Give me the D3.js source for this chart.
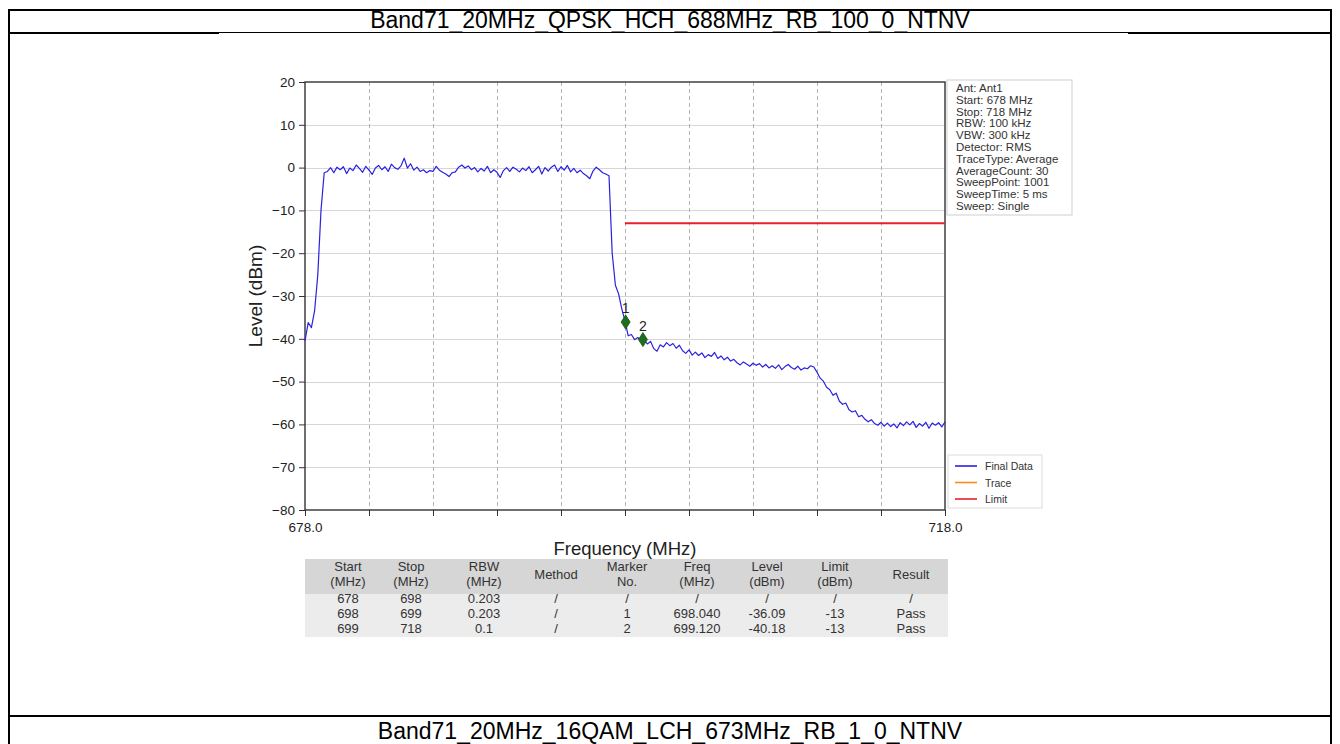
<!DOCTYPE html>
<html>
<head>
<meta charset="utf-8">
<script src="https://cdn.jsdelivr.net/npm/d3@7"></script>
<style>
  html, body { margin: 0; padding: 0; background: #fff; }
  svg { display: block; font-family: Arial, "Liberation Sans", sans-serif; }
</style>
</head>
<body>
<svg id="chart" width="1340" height="744"></svg>
<script>
// Sweep settings
const startMHz = 678;
const stopMHz = 718;

// Final Data trace, dBm, equally spaced between start and stop
const traceLevels = [
  -40.5, -36.2, -37.4, -33.5, -25.0, -10.0, -1.2,
  -0.9, 0.0, -1.2, 0.1, -0.5, 0.2, -1.4, -0.1, -0.7, 0.6,
  -0.2, -1.1, 0.3, -0.6, -1.6, -0.1, 0.5, -0.5, 0.2, -0.9,
  0.8, 0.0, -0.4, 0.4, 2.2, -0.1, 0.9, -0.6, 0.1, -0.9,
  -0.5, -1.2, -0.7, -0.9, 0.3, -0.6, -1.1, -1.5, -2.1, -1.2,
  -1.0, 0.1, 0.6, -0.1, 0.4, -0.5, 0.0, -1.0, -0.2, -0.8,
  0.3, -1.2, -0.5, -1.1, -2.3, -0.7, 0.0, -0.9, 0.1, -0.4,
  -1.0, -0.1, -0.7, 0.2, -1.2, -0.5, 0.3, -1.5, 0.0, -0.8,
  0.1, 0.6, -0.9, 0.2, -0.6, 0.5, -1.0, -0.2, -1.2, -0.6,
  -1.4, -1.9, -2.6, -0.8, 0.1, -0.5, -1.2, -1.5,
  -1.9, -20.0, -27.5, -29.5, -33.0, -35.8, -39.3, -39.0, -40.2, -39.7, -40.4, -40.3,
  -41.2, -40.6, -42.3, -42.9, -41.4, -41.9, -40.9, -41.6, -41.1, -42.2,
  -41.5, -42.8, -43.4, -42.6, -43.8, -43.1, -43.9, -43.3, -44.4, -43.7,
  -44.1, -43.2, -44.6, -44.0, -44.9, -44.3, -45.2, -44.8, -45.6, -46.1,
  -45.4, -45.9, -46.4, -45.7, -46.2, -45.8, -46.6, -46.0, -46.8, -46.3,
  -46.9, -46.1, -47.2, -46.5, -46.0, -46.7, -47.1, -46.4, -47.3, -46.8,
  -47.0, -46.3, -46.6, -47.8, -49.2, -49.9, -51.3, -51.9, -53.2, -52.7,
  -54.6, -55.3, -55.0, -56.6, -57.1, -56.8, -58.2, -57.9, -58.8, -59.4,
  -58.9, -59.8, -60.2, -59.5, -60.4, -59.7, -60.5, -59.9, -60.8, -59.6,
  -60.3, -59.4, -60.1, -59.3, -60.7, -59.8, -60.4, -59.5, -60.9, -59.7,
  -60.2, -59.6, -60.6, -59.4
];

// Limit line segment
const limitStart = 698;
const limitStop = 718;
const limitLevel = -13;

// Markers
const markerNos = ["1", "2"];
const markerFreqs = [698.040, 699.120];
const markerLevels = [-36.09, -40.18];

// Axis ticks
const yTicks = [20, 10, 0, -10, -20, -30, -40, -50, -60, -70, -80];
const xTicks = [678, 682, 686, 690, 694, 698, 702, 706, 710, 714, 718];
const xTickLabels = ["678.0", "718.0"];

// Setting panel lines
const infoLines = ["Ant: Ant1", "Start: 678 MHz", "Stop: 718 MHz", "RBW: 100 kHz", "VBW: 300 kHz",
  "Detector: RMS", "TraceType: Average", "AverageCount: 30", "SweepPoint: 1001", "SweepTime: 5 ms", "Sweep: Single"];

// Legend
const legendNames = ["Final Data", "Trace", "Limit"];
const legendColors = ["#2a22e0", "#ff8c1a", "#e8202a"];

// Result table
const tableHead1 = ["Start", "Stop", "RBW", "Method", "Marker", "Freq", "Level", "Limit", "Result"];
const tableHead2 = ["(MHz)", "(MHz)", "(MHz)", "", "No.", "(MHz)", "(dBm)", "(dBm)", ""];
const tableRows = [
  ["678", "698", "0.203", "/", "/", "/", "/", "/", "/"],
  ["698", "699", "0.203", "/", "1", "698.040", "-36.09", "-13", "Pass"],
  ["699", "718", "0.1", "/", "2", "699.120", "-40.18", "-13", "Pass"]
];

const titleTop = "Band71_20MHz_QPSK_HCH_688MHz_RB_100_0_NTNV";
const titleBottom = "Band71_20MHz_16QAM_LCH_673MHz_RB_1_0_NTNV";

const svg = d3.select("#chart");

// ---- page frame ----
const frame = svg.append("g");
frame.append("rect").attr("x", 9).attr("y", 10).attr("width", 1322).attr("height", 760)
  .attr("fill", "none").attr("stroke", "#000").attr("stroke-width", 2);
frame.append("line").attr("x1", 9).attr("x2", 1331).attr("y1", 33).attr("y2", 33)
  .attr("stroke", "#000").attr("stroke-width", 2);
frame.append("line").attr("x1", 9).attr("x2", 1331).attr("y1", 716).attr("y2", 716)
  .attr("stroke", "#000").attr("stroke-width", 2);
// embedded chart picture area
frame.append("rect").attr("x", 219).attr("y", 33).attr("width", 909).attr("height", 655).attr("fill", "#fff");

frame.append("text").attr("x", 670).attr("y", 28).attr("text-anchor", "middle")
  .attr("font-size", 23).attr("fill", "#000").text(titleTop);
frame.append("text").attr("x", 670).attr("y", 739).attr("text-anchor", "middle")
  .attr("font-size", 23).attr("fill", "#000").text(titleBottom);

// ---- plot ----
const x = d3.scaleLinear().domain([startMHz, stopMHz]).range([305, 945]);
const y = d3.scaleLinear().domain([-80, 20]).range([510, 82]);

const g = svg.append("g");

// grid
g.append("g").selectAll("line").data(yTicks.slice(1, -1)).join("line")
  .attr("x1", x(startMHz)).attr("x2", x(stopMHz))
  .attr("y1", d => Math.round(y(d)) + 0.5).attr("y2", d => Math.round(y(d)) + 0.5)
  .attr("stroke", "#d6d6d6").attr("stroke-width", 1.2);
g.append("g").selectAll("line").data(xTicks.slice(1, -1)).join("line")
  .attr("x1", d => Math.round(x(d)) + 0.5).attr("x2", d => Math.round(x(d)) + 0.5)
  .attr("y1", y(20)).attr("y2", y(-80))
  .attr("stroke", "#b4b4b4").attr("stroke-width", 1).attr("stroke-dasharray", "4,3");

// axes
const yAxis = d3.axisLeft(y).tickValues(yTicks).tickSize(6).tickPadding(4);
const yG = g.append("g").attr("transform", `translate(${x(startMHz)},0)`).call(yAxis);
yG.select(".domain").remove();
yG.selectAll("text").attr("font-size", 13.5).attr("font-family", "Arial, 'Liberation Sans', sans-serif").attr("fill", "#222");
yG.selectAll("line").attr("stroke", "#333");

const xAxis = d3.axisBottom(x).tickValues(xTicks).tickSize(6).tickPadding(6)
  .tickFormat(d => (d === startMHz ? xTickLabels[0] : d === stopMHz ? xTickLabels[1] : ""));
const xG = g.append("g").attr("transform", `translate(0,${y(-80)})`).call(xAxis);
xG.select(".domain").remove();
xG.selectAll("text").attr("font-size", 13.5).attr("font-family", "Arial, 'Liberation Sans', sans-serif").attr("fill", "#222");
xG.selectAll("line").attr("stroke", "#333");

// plot border
g.append("rect").attr("x", x(startMHz)).attr("y", y(20))
  .attr("width", x(stopMHz) - x(startMHz)).attr("height", y(-80) - y(20))
  .attr("fill", "none").attr("stroke", "#333").attr("stroke-width", 1.4);

// axis titles
g.append("text").attr("transform", `translate(262,${(y(20) + y(-80)) / 2}) rotate(-90)`)
  .attr("text-anchor", "middle").attr("font-size", 19).attr("fill", "#222").text("Level (dBm)");
g.append("text").attr("x", (x(startMHz) + x(stopMHz)) / 2).attr("y", 555)
  .attr("text-anchor", "middle").attr("font-size", 18.5).attr("fill", "#222").text("Frequency (MHz)");

// limit
g.append("line").attr("x1", x(limitStart)).attr("x2", x(limitStop))
  .attr("y1", y(limitLevel)).attr("y2", y(limitLevel))
  .attr("stroke", legendColors[2]).attr("stroke-width", 2);

// trace
const step = (stopMHz - startMHz) / (traceLevels.length - 1);
const line = d3.line().x((d, i) => x(startMHz + i * step)).y(d => y(d));
g.append("path").datum(traceLevels).attr("d", line)
  .attr("fill", "none").attr("stroke", legendColors[0]).attr("stroke-width", 1.2)
  .attr("stroke-linejoin", "round");

// markers
const mk = g.append("g").selectAll("g").data(markerNos).join("g")
  .attr("transform", (d, i) => `translate(${x(markerFreqs[i])},${y(markerLevels[i])})`);
mk.append("path").attr("d", "M0,-7 L4.5,0 L0,7 L-4.5,0 Z").attr("fill", "#1d6e1d").attr("stroke", "#145214").attr("stroke-width", 0.8);
mk.append("text").attr("x", 0).attr("y", -9).attr("text-anchor", "middle")
  .attr("font-size", 14).attr("fill", "#222").text(d => d);

// settings panel
const info = svg.append("g");
info.append("rect").attr("x", 947).attr("y", 80).attr("width", 125).attr("height", 135)
  .attr("fill", "#fff").attr("stroke", "#cfcfcf");
info.selectAll("text").data(infoLines).join("text")
  .attr("x", 956).attr("y", (d, i) => 92 + i * 11.8)
  .attr("font-size", 11.5).attr("fill", "#333").text(d => d);

// legend
const leg = svg.append("g");
leg.append("rect").attr("x", 948).attr("y", 455).attr("width", 94).attr("height", 53)
  .attr("fill", "#fff").attr("stroke", "#dcdcdc");
const legItems = leg.selectAll("g").data(legendNames).join("g")
  .attr("transform", (d, i) => `translate(955,${466 + i * 16.5})`);
legItems.append("line").attr("x1", 0).attr("x2", 22).attr("stroke", (d, i) => legendColors[i]).attr("stroke-width", 1.6);
legItems.append("text").attr("x", 30).attr("y", 4).attr("font-size", 10.5).attr("fill", "#333").text(d => d);

// result table
const colX = [348, 411, 484, 556, 627, 697, 767, 835, 911];
const tbl = svg.append("g");
tbl.append("rect").attr("x", 305).attr("y", 559).attr("width", 643).attr("height", 35).attr("fill", "#d6d6d6");
tbl.append("rect").attr("x", 305).attr("y", 594).attr("width", 643).attr("height", 43).attr("fill", "#ececec");
tbl.selectAll("text.h1").data(tableHead1).join("text").attr("class", "h1")
  .attr("x", (d, i) => colX[i]).attr("y", (d, i) => tableHead2[i] ? 571 : 579)
  .attr("text-anchor", "middle").attr("font-size", 13).attr("fill", "#333").text(d => d);
tbl.selectAll("text.h2").data(tableHead2).join("text").attr("class", "h2")
  .attr("x", (d, i) => colX[i]).attr("y", 586)
  .attr("text-anchor", "middle").attr("font-size", 13).attr("fill", "#333").text(d => d);
tableRows.forEach((row, r) => {
  tbl.append("g").selectAll("text").data(row).join("text")
    .attr("x", (d, i) => colX[i]).attr("y", 603 + r * 15)
    .attr("text-anchor", "middle").attr("font-size", 13).attr("fill", "#333").text(d => d);
});
</script>
</body>
</html>
